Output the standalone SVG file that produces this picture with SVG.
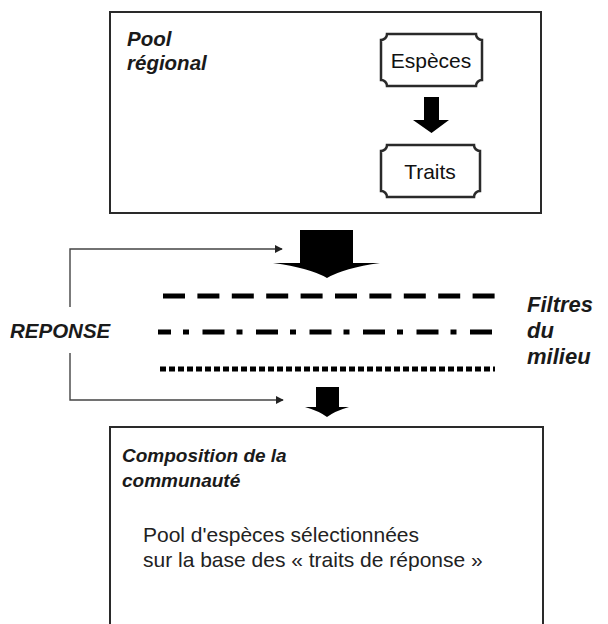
<svg xmlns="http://www.w3.org/2000/svg" width="608" height="624" viewBox="0 0 608 624">
<defs>
<style>
.box{fill:#fff;stroke:#2a2a2a;stroke-width:2}
.plaque{fill:#fff;stroke:#2a2a2a;stroke-width:2.5}
.bi{font-family:"Liberation Sans",Arial,sans-serif;font-weight:bold;font-style:italic;font-size:19px;fill:#1a1a1a}
.big{font-size:20.5px}
.fl{font-size:22px}
.lbl{font-family:"Liberation Sans",Arial,sans-serif;font-size:21px;fill:#111;text-anchor:middle}
.txt{font-family:"Liberation Sans",Arial,sans-serif;font-size:21px;fill:#222}
.conn{fill:none;stroke:#444;stroke-width:1.4}
.filt{fill:none;stroke:#000;stroke-width:5}
.blk{fill:#000}
</style>
<marker id="ah" viewBox="0 0 10 10" refX="9" refY="5" markerWidth="8" markerHeight="8" markerUnits="userSpaceOnUse" orient="auto">
<path d="M0,0 L10,5 L0,10 Z" fill="#222"/>
</marker>
</defs>
<rect width="608" height="624" fill="#fff"/>

<g id="pool-regional">
<rect class="box" x="110" y="12" width="431" height="201"/>
<text class="bi big" x="127" y="46">Pool</text>
<text class="bi big" x="127" y="70">régional</text>
</g>

<g id="especes">
<path class="plaque" d="M387,34 H476 A6,6 0 0 0 482,40 V80 A6,6 0 0 0 476,86 H387 A6,6 0 0 0 381,80 V40 A6,6 0 0 0 387,34 Z"/>
<text class="lbl" x="431" y="68">Espèces</text>
</g>

<g id="traits">
<path class="plaque" d="M387,145 H474 A6,6 0 0 0 480,151 V191 A6,6 0 0 0 474,197 H387 A6,6 0 0 0 381,191 V151 A6,6 0 0 0 387,145 Z"/>
<text class="lbl" x="430" y="179">Traits</text>
</g>

<g id="filtres">
<line class="filt" x1="163" y1="296" x2="495" y2="296" stroke-dasharray="22 12.4"/>
<line class="filt" x1="158" y1="332" x2="495" y2="332" stroke-dasharray="22 12 6 13.5" stroke-dashoffset="9"/>
<line class="filt" x1="160" y1="369" x2="495" y2="369" stroke-dasharray="6 3"/>
<text class="bi fl" x="527" y="312">Filtres</text>
<text class="bi fl" x="527" y="338">du</text>
<text class="bi fl" x="527" y="364">milieu</text>
</g>

<g id="reponse">
<text class="bi big" x="10" y="338">REPONSE</text>
</g>

<g id="composition">
<rect class="box" x="110" y="427" width="433" height="210"/>
<text class="bi" x="122" y="462">Composition de la</text>
<text class="bi" x="122" y="487">communauté</text>
<text class="txt" x="143" y="542">Pool d'espèces sélectionnées</text>
<text class="txt" x="143" y="567">sur la base des « traits de réponse »</text>
</g>

<g id="connectors">
<path class="blk" d="M424,97 H439 V120 H449 L431.5,133 L413,120 H424 Z"/>
<path class="blk" d="M300,230 H353 V263 H380 Q344,268 327,278 Q310,268 273,263 H300 Z"/>
<path class="blk" d="M316,387 H339 V407 H349 Q335,411 327,417 Q319,411 305,407 H316 Z"/>
<path class="conn" d="M70,307 V249 H282" marker-end="url(#ah)"/>
<path class="conn" d="M70,353 V400 H283" marker-end="url(#ah)"/>
</g>
</svg>
